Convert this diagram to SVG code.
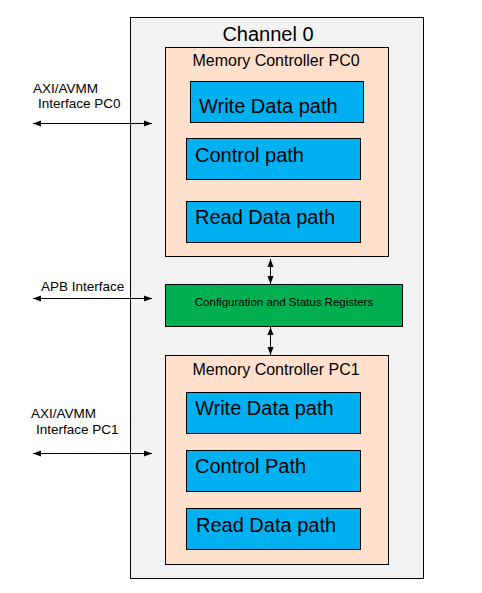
<svg xmlns="http://www.w3.org/2000/svg" width="482" height="593" viewBox="0 0 482 593">
<style>
text{font-family:"Liberation Sans",Arial,sans-serif;fill:#000}
.ch{fill:#F2F2F2;stroke:#000;stroke-width:1}
.mc{fill:#FEE0CC;stroke:#000;stroke-width:1}
.blk{fill:#00B0F0;stroke:#000;stroke-width:1}
.cfg{fill:#00B050;stroke:#000;stroke-width:1}
.big{font-size:20px}
.mid{font-size:16px}
.sm{font-size:13.5px}
.xs{font-size:11.5px}
.ln{stroke:#000;stroke-width:1;fill:none;marker-start:url(#a);marker-end:url(#a)}
</style>
<defs>
<marker id="a" viewBox="0 0 8 8" refX="8" refY="4" markerWidth="8" markerHeight="8" markerUnits="userSpaceOnUse" orient="auto-start-reverse">
<path d="M0,1 L8,4 L0,7 Z" fill="#000"/>
</marker>
</defs>
<g id="channel0">
<rect class="ch" x="130.5" y="17.5" width="293" height="561"/>
<text class="big" x="268" y="41" text-anchor="middle">Channel 0</text>
</g>
<g id="mc-pc0">
<rect class="mc" x="165.5" y="47.5" width="223" height="209"/>
<text class="mid" x="276" y="66" text-anchor="middle">Memory Controller PC0</text>
</g>
<g id="pc0-write">
<rect class="blk" x="190.5" y="81.5" width="173" height="41"/>
<text class="big" x="199" y="113">Write Data path</text>
</g>
<g id="pc0-control">
<rect class="blk" x="186.5" y="138.5" width="174" height="41"/>
<text class="big" x="195" y="162">Control path</text>
</g>
<g id="pc0-read">
<rect class="blk" x="186.5" y="201.5" width="174" height="41"/>
<text class="big" x="195" y="224">Read Data path</text>
</g>
<g id="csr">
<rect class="cfg" x="165.5" y="284.5" width="237" height="42"/>
<text class="xs" x="284" y="306" text-anchor="middle">Configuration and Status Registers</text>
</g>
<g id="mc-pc1">
<rect class="mc" x="165.5" y="355.5" width="223" height="209"/>
<text class="mid" x="276" y="375" text-anchor="middle">Memory Controller PC1</text>
</g>
<g id="pc1-write">
<rect class="blk" x="186.5" y="392.5" width="174" height="41"/>
<text class="big" x="195" y="415">Write Data path</text>
</g>
<g id="pc1-control">
<rect class="blk" x="186.5" y="450.5" width="174" height="41"/>
<text class="big" x="195" y="473">Control Path</text>
</g>
<g id="pc1-read">
<rect class="blk" x="186.5" y="508.5" width="174" height="41"/>
<text class="big" x="196" y="532">Read Data path</text>
</g>
<g id="labels">
<text class="sm" x="33" y="93">AXI/AVMM</text>
<text class="sm" x="38" y="108">Interface PC0</text>
<text class="sm" x="41" y="291">APB Interface</text>
<text class="sm" x="31" y="418">AXI/AVMM</text>
<text class="sm" x="36" y="434">Interface PC1</text>
</g>
<g id="connectors">
<line class="ln" x1="33" y1="123.5" x2="152" y2="123.5"/>
<line class="ln" x1="33" y1="298.5" x2="152" y2="298.5"/>
<line class="ln" x1="33" y1="453.5" x2="152" y2="453.5"/>
<line class="ln" x1="270.5" y1="259" x2="270.5" y2="284"/>
<line class="ln" x1="270.5" y1="327" x2="270.5" y2="355"/>
</g>
</svg>
